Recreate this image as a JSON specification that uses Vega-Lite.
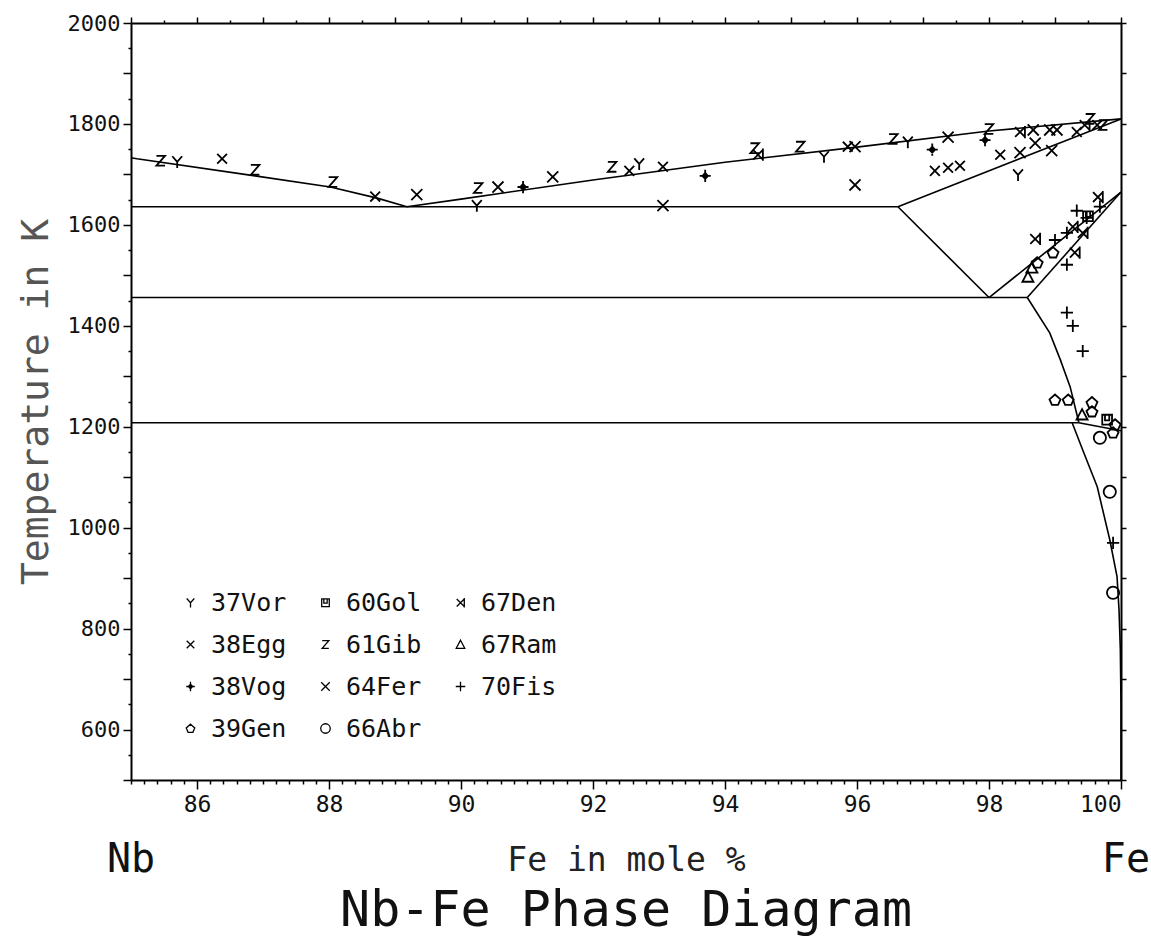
{
  "$schema": "https://vega.github.io/schema/vega-lite/v6.json",
  "autosize": {"type": "none"},
  "padding": {"left": 131, "top": 23, "right": 30, "bottom": 164},
  "width": 990,
  "height": 757,
  "background": "white",
  "title": {"text": "Nb-Fe Phase Diagram", "orient": "bottom", "anchor": "middle", "font": "DejaVu Sans Mono", "fontSize": 50, "fontWeight": "normal", "color": "#111", "offset": 6},
  "config": {
    "font": "DejaVu Sans Mono",
    "view": {"stroke": null},
    "axis": {"domainColor": "black", "domainWidth": 2, "tickColor": "black", "tickWidth": 1.5, "labelColor": "#111", "labelFont": "DejaVu Sans Mono", "titleFont": "DejaVu Sans Mono", "titleFontWeight": "normal", "titleColor": "#222", "grid": false, "labelOverlap": false}
  },
  "resolve": {"axis": {"x": "independent", "y": "independent"}},
  "layer": [
    {
      "data": {"values": [
        {"seg": "A", "i": 0, "x": 85, "T": 1733}, {"seg": "A", "i": 1, "x": 85.09, "T": 1731}, {"seg": "A", "i": 2, "x": 86.88, "T": 1697}, {"seg": "A", "i": 3, "x": 88.02, "T": 1675}, {"seg": "A", "i": 4, "x": 88.73, "T": 1653}, {"seg": "A", "i": 5, "x": 89.18, "T": 1636},
        {"seg": "B", "i": 0, "x": 85, "T": 1636}, {"seg": "B", "i": 1, "x": 96.62, "T": 1636},
        {"seg": "C", "i": 0, "x": 89.18, "T": 1636}, {"seg": "C", "i": 1, "x": 90, "T": 1651}, {"seg": "C", "i": 2, "x": 92, "T": 1689}, {"seg": "C", "i": 3, "x": 94, "T": 1724}, {"seg": "C", "i": 4, "x": 96, "T": 1754}, {"seg": "C", "i": 5, "x": 98, "T": 1786}, {"seg": "C", "i": 6, "x": 100, "T": 1810},
        {"seg": "D", "i": 0, "x": 96.62, "T": 1636}, {"seg": "D", "i": 1, "x": 100, "T": 1810},
        {"seg": "E", "i": 0, "x": 96.62, "T": 1636}, {"seg": "E", "i": 1, "x": 98.0, "T": 1456},
        {"seg": "F", "i": 0, "x": 85, "T": 1456}, {"seg": "F", "i": 1, "x": 98.58, "T": 1456},
        {"seg": "G", "i": 0, "x": 98.0, "T": 1456}, {"seg": "G", "i": 1, "x": 100, "T": 1665},
        {"seg": "H", "i": 0, "x": 98.58, "T": 1456}, {"seg": "H", "i": 1, "x": 100, "T": 1665},
        {"seg": "I", "i": 0, "x": 98.58, "T": 1456}, {"seg": "I", "i": 1, "x": 98.92, "T": 1386}, {"seg": "I", "i": 2, "x": 99.08, "T": 1333}, {"seg": "I", "i": 3, "x": 99.23, "T": 1279}, {"seg": "I", "i": 4, "x": 99.36, "T": 1209},
        {"seg": "J", "i": 0, "x": 85, "T": 1208}, {"seg": "J", "i": 1, "x": 99.36, "T": 1208},
        {"seg": "K", "i": 0, "x": 99.36, "T": 1208}, {"seg": "K", "i": 1, "x": 100, "T": 1192},
        {"seg": "L", "i": 0, "x": 99.26, "T": 1208}, {"seg": "L", "i": 1, "x": 99.42, "T": 1154}, {"seg": "L", "i": 2, "x": 99.64, "T": 1081}, {"seg": "L", "i": 3, "x": 99.83, "T": 976}, {"seg": "L", "i": 4, "x": 99.94, "T": 903}, {"seg": "L", "i": 5, "x": 99.97, "T": 838}, {"seg": "L", "i": 6, "x": 99.99, "T": 758}, {"seg": "L", "i": 7, "x": 100, "T": 650}, {"seg": "L", "i": 8, "x": 100, "T": 500}
      ]},
      "mark": {"type": "line", "color": "black", "strokeWidth": 1.6, "clip": false},
      "encoding": {
        "x": {"field": "x", "type": "quantitative", "scale": {"domain": [85, 100], "nice": false, "zero": false},
          "axis": {"orient": "bottom", "title": "Fe in mole %", "titleFontSize": 33, "titlePadding": 28,
            "values": [85,85.2,85.4,85.6,85.8,86,86.2,86.4,86.6,86.8,87,87.2,87.4,87.6,87.8,88,88.2,88.4,88.6,88.8,89,89.2,89.4,89.6,89.8,90,90.2,90.4,90.6,90.8,91,91.2,91.4,91.6,91.8,92,92.2,92.4,92.6,92.8,93,93.2,93.4,93.6,93.8,94,94.2,94.4,94.6,94.8,95,95.2,95.4,95.6,95.8,96,96.2,96.4,96.6,96.8,97,97.2,97.4,97.6,97.8,98,98.2,98.4,98.6,98.8,99,99.2,99.4,99.6,99.8,100],
            "labelExpr": "abs(datum.value - round(datum.value)) < 0.01 && round(datum.value) % 2 == 0 ? format(round(datum.value), 'd') : ''",
            "labelFontSize": 23, "labelPadding": 4,
            "tickSize": {"condition": {"test": "abs(datum.value - round(datum.value)) < 0.01 && round(datum.value) % 2 == 0", "value": 9}, "value": 4}}},
        "y": {"field": "T", "type": "quantitative", "scale": {"domain": [500, 2000], "nice": false, "zero": false},
          "axis": {"orient": "left", "title": "Temperature in K", "titleFontSize": 38, "titlePadding": 12, "titleColor": "#555",
            "values": [500,550,600,650,700,750,800,850,900,950,1000,1050,1100,1150,1200,1250,1300,1350,1400,1450,1500,1550,1600,1650,1700,1750,1800,1850,1900,1950,2000],
            "labelExpr": "datum.value % 200 == 0 ? format(datum.value, 'd') : ''",
            "labelFontSize": 22, "labelPadding": 3,
            "tickSize": {"condition": {"test": "datum.value % 100 == 0", "value": 8}, "value": 3}}},
        "detail": {"field": "seg"},
        "order": {"field": "i"}
      }
    },
    {
      "data": {"values": [
        {"src": "37Vor", "x": 85.7, "T": 1725}, {"src": "37Vor", "x": 90.24, "T": 1638}, {"src": "37Vor", "x": 92.7, "T": 1721}, {"src": "37Vor", "x": 95.5, "T": 1735}, {"src": "37Vor", "x": 96.77, "T": 1764}, {"src": "37Vor", "x": 98.44, "T": 1699},
        {"src": "38Egg", "x": 86.38, "T": 1731}, {"src": "38Egg", "x": 88.7, "T": 1656}, {"src": "38Egg", "x": 92.55, "T": 1707}, {"src": "38Egg", "x": 93.06, "T": 1715}, {"src": "38Egg", "x": 95.86, "T": 1755}, {"src": "38Egg", "x": 97.18, "T": 1707}, {"src": "38Egg", "x": 97.38, "T": 1713}, {"src": "38Egg", "x": 97.56, "T": 1717}, {"src": "38Egg", "x": 98.17, "T": 1739}, {"src": "38Egg", "x": 99.33, "T": 1784}, {"src": "38Egg", "x": 99.64, "T": 1798},
        {"src": "38Vog", "x": 90.94, "T": 1675}, {"src": "38Vog", "x": 93.7, "T": 1697}, {"src": "38Vog", "x": 97.14, "T": 1749}, {"src": "38Vog", "x": 97.94, "T": 1768},
        {"src": "39Gen", "x": 98.97, "T": 1545}, {"src": "39Gen", "x": 98.73, "T": 1525}, {"src": "39Gen", "x": 99.0, "T": 1253}, {"src": "39Gen", "x": 99.2, "T": 1253}, {"src": "39Gen", "x": 99.56, "T": 1248}, {"src": "39Gen", "x": 99.56, "T": 1230}, {"src": "39Gen", "x": 99.91, "T": 1204}, {"src": "39Gen", "x": 99.88, "T": 1188},
        {"src": "60Gol", "x": 99.79, "T": 1214}, {"src": "60Gol", "x": 99.5, "T": 1617},
        {"src": "61Gib", "x": 85.45, "T": 1727}, {"src": "61Gib", "x": 86.88, "T": 1709}, {"src": "61Gib", "x": 88.06, "T": 1685}, {"src": "61Gib", "x": 90.26, "T": 1673}, {"src": "61Gib", "x": 92.29, "T": 1715}, {"src": "61Gib", "x": 94.45, "T": 1752}, {"src": "61Gib", "x": 95.14, "T": 1755}, {"src": "61Gib", "x": 96.55, "T": 1770}, {"src": "61Gib", "x": 98.0, "T": 1790}, {"src": "61Gib", "x": 99.53, "T": 1810}, {"src": "61Gib", "x": 99.73, "T": 1798},
        {"src": "64Fer", "x": 89.33, "T": 1660}, {"src": "64Fer", "x": 90.56, "T": 1675}, {"src": "64Fer", "x": 91.39, "T": 1695}, {"src": "64Fer", "x": 93.06, "T": 1638}, {"src": "64Fer", "x": 95.97, "T": 1679}, {"src": "64Fer", "x": 95.97, "T": 1755}, {"src": "64Fer", "x": 97.38, "T": 1774}, {"src": "64Fer", "x": 98.47, "T": 1743}, {"src": "64Fer", "x": 98.67, "T": 1788}, {"src": "64Fer", "x": 98.7, "T": 1762}, {"src": "64Fer", "x": 98.95, "T": 1747}, {"src": "64Fer", "x": 98.92, "T": 1788}, {"src": "64Fer", "x": 99.03, "T": 1788},
        {"src": "66Abr", "x": 99.68, "T": 1178}, {"src": "66Abr", "x": 99.83, "T": 1071}, {"src": "66Abr", "x": 99.88, "T": 871},
        {"src": "67Den", "x": 94.5, "T": 1739}, {"src": "67Den", "x": 98.47, "T": 1784}, {"src": "67Den", "x": 99.45, "T": 1798}, {"src": "67Den", "x": 98.7, "T": 1572}, {"src": "67Den", "x": 99.3, "T": 1545}, {"src": "67Den", "x": 99.65, "T": 1655}, {"src": "67Den", "x": 99.42, "T": 1584}, {"src": "67Den", "x": 99.27, "T": 1596},
        {"src": "67Ram", "x": 98.65, "T": 1515}, {"src": "67Ram", "x": 98.59, "T": 1497}, {"src": "67Ram", "x": 99.41, "T": 1224},
        {"src": "70Fis", "x": 99.0, "T": 1570}, {"src": "70Fis", "x": 99.18, "T": 1584}, {"src": "70Fis", "x": 99.33, "T": 1628}, {"src": "70Fis", "x": 99.48, "T": 1614}, {"src": "70Fis", "x": 99.68, "T": 1636}, {"src": "70Fis", "x": 99.18, "T": 1521}, {"src": "70Fis", "x": 99.18, "T": 1426}, {"src": "70Fis", "x": 99.27, "T": 1400}, {"src": "70Fis", "x": 99.42, "T": 1350}, {"src": "70Fis", "x": 99.88, "T": 970}
      ]},
      "mark": {"type": "point", "filled": false, "color": "black", "strokeWidth": 1.8, "size": 150, "opacity": 1, "clip": false},
      "encoding": {
        "x": {"field": "x", "type": "quantitative", "scale": {"domain": [85, 100], "nice": false, "zero": false},
          "axis": {"orient": "top", "title": null, "labels": false, "values": [85,85.5,86,86.5,87,87.5,88,88.5,89,89.5,90,90.5,91,91.5,92,92.5,93,93.5,94,94.5,95,95.5,96,96.5,97,97.5,98,98.5,99,99.5,100], "tickSize": {"condition": {"test": "datum.value % 1 == 0", "value": 6}, "value": 3}}},
        "y": {"field": "T", "type": "quantitative", "scale": {"domain": [500, 2000], "nice": false, "zero": false},
          "axis": {"orient": "right", "title": null, "labels": false, "values": [500,600,700,800,900,1000,1100,1200,1300,1400,1500,1600,1700,1800,1900,2000], "tickSize": 5}},
        "shape": {"field": "src", "type": "nominal",
          "scale": {
            "domain": ["37Vor", "38Egg", "38Vog", "39Gen", "60Gol", "61Gib", "64Fer", "66Abr", "67Den", "67Ram", "70Fis"],
            "range": [
              "M-0.8,-0.9L0,0L0.8,-0.9M0,0L0,1",
              "M-0.8,-0.8L0.8,0.8M-0.8,0.8L0.8,-0.8",
              "M0,-1L0,1M-0.9,0L0.9,0M0,-0.5L0.45,0L0,0.5L-0.45,0Z",
              "M0,-0.9L0.9,-0.1L0.5,0.8L-0.5,0.8L-0.9,-0.1Z",
              "M-0.8,-0.8L0.8,-0.8L0.8,0.8L-0.8,0.8Z M-0.35,-0.8L-0.35,0.1L0.35,0.1L0.35,-0.8",
              "M-0.7,-0.8L0.7,-0.8L-0.7,0.8L0.7,0.8",
              "M-0.9,-0.9L0.9,0.9M-0.9,0.9L0.9,-0.9",
              "circle",
              "M-0.8,-0.8L0.8,0.8M-0.8,0.8L0.8,-0.8M0.8,-1L0.8,1",
              "M0,-0.9L0.9,0.8L-0.9,0.8Z",
              "M0,-1L0,1M-1,0L1,0"
            ]
          },
          "legend": {"orient": "none", "legendX": 47, "legendY": 567, "columns": 3, "title": null, "labelFontSize": 25, "labelFont": "DejaVu Sans Mono", "labelColor": "#111", "symbolSize": 90, "symbolStrokeWidth": 1.3, "symbolStrokeColor": "black", "labelOffset": 8, "rowPadding": 16, "columnPadding": 26, "padding": 0}
        }
      }
    },
    {
      "data": {"values": [{}]},
      "mark": {"type": "text", "text": "Nb", "font": "DejaVu Sans Mono", "fontSize": 40, "align": "center", "baseline": "middle", "dy": 80, "color": "#111"},
      "encoding": {
        "x": {"datum": 85, "type": "quantitative", "axis": null},
        "y": {"datum": 500, "type": "quantitative", "axis": null}
      }
    },
    {
      "data": {"values": [{}]},
      "mark": {"type": "text", "text": "Fe", "font": "DejaVu Sans Mono", "fontSize": 40, "align": "right", "baseline": "middle", "dy": 80, "dx": 29, "color": "#111"},
      "encoding": {
        "x": {"datum": 100, "type": "quantitative", "axis": null},
        "y": {"datum": 500, "type": "quantitative", "axis": null}
      }
    }
  ]
}
